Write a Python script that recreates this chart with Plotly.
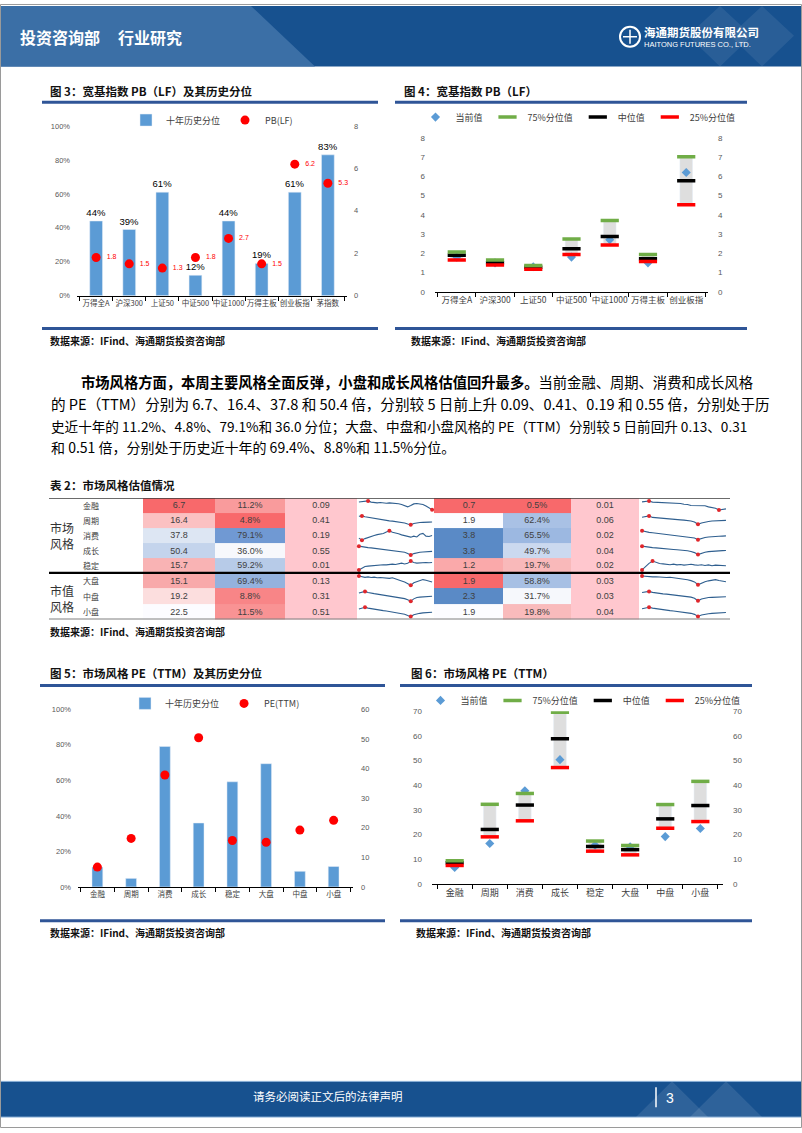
import plotly.graph_objects as go

W, H = 802, 1133
FONT = "Noto Sans CJK SC"
NUMFONT = "Liberation Sans, Noto Sans CJK SC"


def px(x):
    return x / W


def py(y):
    return 1 - y / H


# ---------------- data ----------------
broad_index = ["万得全A", "沪深300", "上证50", "中证500", "中证1000", "万得主板", "创业板指", "茅指数"]
broad_pb_pct = [44, 39, 61, 12, 44, 19, 61, 83]
broad_pb = [1.8, 1.5, 1.3, 1.8, 2.7, 1.5, 6.2, 5.3]

range_index = ["万得全A", "沪深300", "上证50", "中证500", "中证1000", "万得主板", "创业板指"]
pb_current = [1.8, 1.5, 1.3, 1.8, 2.7, 1.5, 6.2]
pb_q75 = [2.07, 1.65, 1.36, 2.74, 3.70, 1.93, 7.02]
pb_median = [1.89, 1.50, 1.27, 2.24, 2.87, 1.72, 5.77]
pb_q25 = [1.65, 1.39, 1.17, 1.94, 2.43, 1.57, 4.53]

styles = ["金融", "周期", "消费", "成长", "稳定", "大盘", "中盘", "小盘"]
style_pe = [6.7, 16.4, 37.8, 50.4, 15.7, 15.1, 19.2, 22.5]
style_pe_pct = [11.2, 4.8, 79.1, 36.0, 59.2, 69.4, 8.8, 11.5]
style_pe_chg = [0.09, 0.41, 0.19, 0.55, 0.01, 0.13, 0.31, 0.51]
style_pb = [0.7, 1.9, 3.8, 3.8, 1.2, 1.9, 2.3, 1.9]
style_pb_pct = [0.5, 62.4, 65.5, 49.7, 19.7, 58.8, 31.7, 19.8]
style_pb_chg = [0.01, 0.06, 0.02, 0.04, 0.02, 0.03, 0.03, 0.04]

pe_q75 = [9.4, 32.3, 36.7, 69.6, 17.4, 15.6, 32.2, 41.6]
pe_median = [8.6, 22.1, 32.0, 58.9, 15.2, 13.9, 26.4, 31.8]
pe_q25 = [7.5, 19.1, 25.6, 47.2, 13.3, 11.8, 22.6, 25.3]

# sparkline trends (relative heights)
pe_trend = [
    [85, 88, 92, 96, 84, 78, 76, 80, 74, 72, 76, 74, 70, 68, 60, 48, 36, 50, 66, 70, 68, 60, 44, 26, 8],
    [92, 95, 86, 80, 74, 70, 66, 62, 56, 50, 45, 42, 38, 34, 30, 24, 14, 5, 18, 26, 28, 30, 28, 32, 33],
    [25, 5, 20, 32, 42, 50, 58, 62, 70, 84, 95, 82, 76, 66, 56, 50, 40, 34, 44, 36, 62, 70, 44, 40, 50],
    [95, 88, 84, 80, 78, 74, 70, 66, 64, 60, 56, 52, 48, 44, 40, 34, 22, 5, 20, 30, 34, 36, 38, 40, 42],
    [5, 22, 40, 44, 48, 52, 50, 54, 58, 56, 62, 64, 60, 70, 74, 66, 72, 95, 80, 74, 78, 76, 80, 78, 80],
    [95, 86, 82, 86, 80, 84, 78, 80, 76, 74, 72, 78, 66, 52, 46, 36, 24, 5, 30, 42, 50, 60, 54, 42, 36],
    [80, 88, 95, 84, 76, 74, 70, 66, 62, 58, 54, 50, 46, 40, 34, 28, 18, 5, 26, 38, 42, 44, 46, 48, 50],
    [78, 86, 95, 86, 80, 76, 72, 66, 62, 58, 54, 50, 46, 42, 36, 28, 16, 5, 22, 32, 36, 40, 42, 44, 46],
]
pb_trend = [
    [86, 90, 95, 84, 82, 80, 78, 76, 74, 76, 72, 70, 62, 60, 50, 48, 52, 46, 48, 36, 30, 22, 5, 10, 16],
    [82, 88, 95, 80, 76, 74, 70, 66, 62, 60, 58, 55, 52, 50, 44, 34, 10, 24, 34, 38, 44, 46, 48, 50, 50],
    [95, 86, 80, 76, 72, 70, 66, 62, 58, 55, 52, 48, 44, 40, 36, 26, 10, 22, 30, 36, 40, 44, 42, 44, 46],
    [95, 88, 84, 80, 78, 76, 72, 70, 66, 62, 58, 56, 52, 48, 42, 30, 10, 24, 34, 40, 44, 46, 48, 50, 52],
    [5, 40, 72, 95, 82, 70, 66, 62, 58, 64, 56, 60, 54, 58, 62, 56, 52, 58, 50, 56, 48, 54, 50, 52, 48],
    [95, 90, 92, 86, 88, 84, 86, 80, 82, 78, 74, 70, 64, 58, 50, 38, 10, 28, 40, 48, 56, 60, 52, 44, 40],
    [84, 90, 95, 86, 80, 76, 72, 70, 66, 62, 58, 56, 52, 48, 42, 32, 8, 24, 32, 38, 40, 42, 44, 44, 46],
    [80, 88, 95, 86, 80, 74, 70, 66, 62, 58, 54, 50, 46, 42, 36, 26, 6, 20, 28, 32, 36, 38, 40, 42, 44],
]

# ---------------- styles ----------------
BLUE = "#5b9bd5"
RED = "#ff0000"
GREEN = "#70ad47"
BAND = "#dedede"
LINEBLUE = "#2f5597"
HEADER_DARK = "#17518f"
HEADER_LIGHT = "#3b6fa6"

pe_colors = ["#f8696b", "#fbc1c2", "#dde6f3", "#c4d4ec", "#f9b3b4", "#f8a9aa", "#fcdede", "#fcfcff"]
pe_pct_colors = ["#f99b9c", "#f8696b", "#7099d3", "#f7f8fc", "#b7cbe8", "#94b2de", "#f88587", "#f99394"]
pb_colors = ["#f8696b", "#fcfcff", "#5a8ac6", "#5a8ac6", "#faa9aa", "#f8696b", "#5a8ac6", "#fcfcff"]
pb_pct_colors = ["#f8696b", "#a9c1e5", "#9cb8e1", "#cbd9ef", "#f9b9ba", "#a7c0e4", "#f6f8fc", "#f9bbbc"]
chg_color = "#ffc7ce"

fig = go.Figure()
layout_axes = {}
shapes = []
annotations = []


def text(s, x, y, size, color="#000000", bold=False, xanchor="left", family=FONT):
    annotations.append(dict(text=f"<b>{s}</b>" if bold else s, x=px(x), y=py(y), xref="paper", yref="paper",
                            xanchor=xanchor, yanchor="middle", showarrow=False, borderpad=0,
                            font=dict(size=size, color=color, family=family)))


def hline(x0, x1, y, color, w):
    shapes.append(dict(type="line", xref="paper", yref="paper", x0=px(x0), x1=px(x1), y0=py(y), y1=py(y),
                       line=dict(color=color, width=w)))


def rect(x0, y0, x1, y1, fill, line=None, lw=0):
    shapes.append(dict(type="rect", xref="paper", yref="paper", x0=px(x0), x1=px(x1), y0=py(y1), y1=py(y0),
                       fillcolor=fill, line=dict(color=line or "rgba(0,0,0,0)", width=lw), layer="below"))


def poly(points, fill):
    path = "M " + " L ".join(f"{px(x)},{py(y)}" for x, y in points) + " Z"
    shapes.append(dict(type="path", xref="paper", yref="paper", path=path, fillcolor=fill,
                       line=dict(width=0), layer="below"))


def cat_x(x0, x1, anchor, fs):
    return dict(domain=[px(x0), px(x1)], anchor=anchor, type="category", showline=True, linecolor="#000000",
                linewidth=1, ticks="outside", tickson="boundaries", ticklen=4, tickcolor="#000000",
                tickangle=0, tickfont=dict(size=fs, color="#404040", family=FONT), showgrid=False,
                zeroline=False, fixedrange=True)


def val_y(y0, y1, anchor, rng, dtick, side="left", overlay=None, suffix="", standoff=6, fs=7.5):
    d = dict(range=rng, dtick=dtick, side=side, showgrid=False, zeroline=False, showline=False, ticks="",
             tickfont=dict(size=fs, color="#595959", family=NUMFONT), ticksuffix=suffix, anchor=anchor,
             fixedrange=True, ticklabelstandoff=standoff)
    if overlay:
        d["overlaying"] = overlay
    else:
        d["domain"] = [py(y1), py(y0)]
    return d


def legend_cfg(cx, cy):
    return dict(orientation="h", x=px(cx), y=py(cy), xanchor="center", yanchor="middle",
                font=dict(size=9, color="#404040", family=FONT), bgcolor="rgba(0,0,0,0)",
                itemwidth=30, tracegroupgap=0)


# ---------------- header / footer / frame ----------------
rect(0, 2, 802, 63, HEADER_DARK)
poly([(0, 2), (251, 2), (315, 63), (0, 63)], HEADER_LIGHT)
poly([(720, 2), (752, 32), (720, 63), (688, 32)], "rgba(255,255,255,0.08)")
poly([(762, 2), (794, 32), (762, 63), (730, 32)], "rgba(255,255,255,0.08)")
text("投资咨询部", 19, 33, 16, "#ffffff", True)
text("行业研究", 117, 33, 16, "#ffffff", True)
shapes.append(dict(type="circle", xref="paper", yref="paper", x0=px(620), x1=px(640), y0=py(43), y1=py(23),
                   line=dict(color="#ffffff", width=2)))
shapes.append(dict(type="line", xref="paper", yref="paper", x0=px(623), x1=px(637), y0=py(33), y1=py(33),
                   line=dict(color="#ffffff", width=1.5)))
shapes.append(dict(type="line", xref="paper", yref="paper", x0=px(630), x1=px(630), y0=py(26), y1=py(40),
                   line=dict(color="#ffffff", width=1.5)))
text("海通期货股份有限公司", 643, 28, 11.5, "#ffffff", True)
text("HAITONG FUTURES CO., LTD.", 643, 41, 7.5, "#ffffff", False, family=NUMFONT)

rect(0, 1086, 802, 1122, HEADER_DARK, "#8fb4da", 1)
poly([(636, 1122), (672, 1086), (708, 1122)], "rgba(255,255,255,0.10)")
poly([(690, 1122), (726, 1086), (762, 1122)], "rgba(255,255,255,0.10)")
text("请务必阅读正文后的法律声明", 328, 1101, 11.5, "#ffffff", False, "center")
shapes.append(dict(type="line", xref="paper", yref="paper", x0=px(656), x1=px(656), y0=py(1112), y1=py(1092),
                   line=dict(color="#ffffff", width=1.5)))
text("3", 670, 1103, 14, "#ffffff", False, "center", NUMFONT)
shapes.append(dict(type="rect", xref="paper", yref="paper", x0=px(0.5), x1=px(801.5), y0=py(1132.5),
                   y1=py(0.5), line=dict(color="#9a9a9a", width=1), layer="below"))

# ---------------- section titles / rules / sources ----------------
text("图 3：宽基指数 PB（LF）及其历史分位", 49, 88, 11.5, "#111111", True)
text("图 4：宽基指数 PB（LF）", 403, 88, 11.5, "#111111", True)
hline(42, 378, 99, LINEBLUE, 3)
hline(395, 747, 99, LINEBLUE, 3)
hline(42, 378, 327, LINEBLUE, 3)
hline(395, 747, 327, LINEBLUE, 3)
text("数据来源：IFind、海通期货投资咨询部", 49, 339, 10, "#111111", True)
text("数据来源：IFind、海通期货投资咨询部", 410, 339, 10, "#111111", True)

text("图 5：市场风格 PE（TTM）及其历史分位", 49, 674, 11.5, "#111111", True)
text("图 6：市场风格 PE（TTM）", 410, 674, 11.5, "#111111", True)
hline(40, 385, 687, LINEBLUE, 3)
hline(400, 752, 687, LINEBLUE, 3)
hline(40, 385, 924, LINEBLUE, 3)
hline(400, 752, 924, LINEBLUE, 3)
text("数据来源：IFind、海通期货投资咨询部", 49, 936, 10, "#111111", True)
text("数据来源：IFind、海通期货投资咨询部", 415, 936, 10, "#111111", True)

text("表 2：市场风格估值情况", 49, 485, 11.5, "#111111", True)
text("数据来源：IFind、海通期货投资咨询部", 49, 633, 10, "#111111", True)

# ---------------- paragraph ----------------
text("<b>市场风格方面，本周主要风格全面反弹，小盘和成长风格估值回升最多。</b>当前金融、周期、消费和成长风格",
     80, 381, 14.3)
text("的 PE（TTM）分别为 6.7、16.4、37.8 和 50.4 倍，分别较 5 日前上升 0.09、0.41、0.19 和 0.55 倍，分别处于历",
     50, 403, 14.6)
text("史近十年的 11.2%、4.8%、79.1%和 36.0 分位；大盘、中盘和小盘风格的 PE（TTM）分别较 5 日前回升 0.13、0.31",
     50, 425, 13.6)
text("和 0.51 倍，分别处于历史近十年的 69.4%、8.8%和 11.5%分位。", 50, 447, 14)

# ---------------- Figure 3 ----------------
fig.add_trace(go.Bar(x=broad_index, y=broad_pb_pct, name="十年历史分位", marker_color=BLUE, width=0.385,
                     text=[f"{v}%" for v in broad_pb_pct], textposition="outside", constraintext="none",
                     textfont=dict(size=9.5, color="#000000", family=NUMFONT), cliponaxis=False,
                     xaxis="x", yaxis="y", legend="legend"))
fig.add_trace(go.Scatter(x=broad_index, y=broad_pb, name="PB(LF)", mode="markers+text",
                         marker=dict(color=RED, size=9), text=[f"{v:.1f}" for v in broad_pb],
                         texttemplate="  %{text}", textposition="middle right",
                         textfont=dict(size=7, color=RED, family=NUMFONT), cliponaxis=False,
                         xaxis="x", yaxis="y2", legend="legend"))
layout_axes["xaxis"] = cat_x(77, 347, "y", 7.5)
layout_axes["yaxis"] = val_y(123, 294, "x", [0, 100], 20, suffix="%")
layout_axes["yaxis2"] = val_y(123, 294, "x", [0, 8], 2, side="right", overlay="y")

# ---------------- Figure 4 ----------------
fig.add_trace(go.Bar(x=range_index, y=[a - b for a, b in zip(pb_q75, pb_q25)], base=pb_q25, marker_color=BAND,
                     width=0.33, showlegend=False, xaxis="x2", yaxis="y3", hoverinfo="skip"))
fig.add_trace(go.Scatter(x=range_index, y=pb_current, name="当前值", mode="markers",
                         marker=dict(symbol="diamond", size=7, color=BLUE), xaxis="x2", yaxis="y3",
                         legend="legend2"))
fig.add_trace(go.Scatter(x=range_index, y=pb_q75, name="75%分位值", mode="markers",
                         marker=dict(symbol="line-ew", size=13, line=dict(width=3.5, color=GREEN)),
                         xaxis="x2", yaxis="y4", legend="legend2"))
fig.add_trace(go.Scatter(x=range_index, y=pb_median, name="中位值", mode="markers",
                         marker=dict(symbol="line-ew", size=13, line=dict(width=3.5, color="#000000")),
                         xaxis="x2", yaxis="y3", legend="legend2"))
fig.add_trace(go.Scatter(x=range_index, y=pb_q25, name="25%分位值", mode="markers",
                         marker=dict(symbol="line-ew", size=13, line=dict(width=3.5, color=RED)),
                         xaxis="x2", yaxis="y3", legend="legend2"))
layout_axes["xaxis2"] = cat_x(435, 708, "y3", 8.5)
layout_axes["yaxis3"] = val_y(135, 290, "x2", [0, 8], 1, standoff=9, fs=8)
layout_axes["yaxis4"] = val_y(135, 290, "x2", [0, 8], 1, side="right", overlay="y3", standoff=9, fs=8)

# ---------------- Figure 5 ----------------
fig.add_trace(go.Bar(x=styles, y=style_pe_pct, name="十年历史分位", marker_color=BLUE, width=0.32,
                     xaxis="x3", yaxis="y5", legend="legend3"))
fig.add_trace(go.Scatter(x=styles, y=style_pe, name="PE(TTM)", mode="markers", marker=dict(color=RED, size=9),
                         xaxis="x3", yaxis="y6", legend="legend3", cliponaxis=False))
layout_axes["xaxis3"] = cat_x(78, 353, "y5", 7.5)
layout_axes["yaxis5"] = val_y(711, 890, "x3", [0, 100], 20, suffix="%")
layout_axes["yaxis6"] = val_y(711, 890, "x3", [0, 60], 10, side="right", overlay="y5", standoff=7)

# ---------------- Figure 6 ----------------
fig.add_trace(go.Bar(x=styles, y=[a - b for a, b in zip(pe_q75, pe_q25)], base=pe_q25, marker_color=BAND,
                     width=0.36, showlegend=False, xaxis="x4", yaxis="y7", hoverinfo="skip"))
fig.add_trace(go.Scatter(x=styles, y=style_pe, name="当前值", mode="markers",
                         marker=dict(symbol="diamond", size=7, color=BLUE), xaxis="x4", yaxis="y7",
                         legend="legend4"))
fig.add_trace(go.Scatter(x=styles, y=pe_q75, name="75%分位值", mode="markers",
                         marker=dict(symbol="line-ew", size=13, line=dict(width=3.5, color=GREEN)),
                         xaxis="x4", yaxis="y8", legend="legend4"))
fig.add_trace(go.Scatter(x=styles, y=pe_median, name="中位值", mode="markers",
                         marker=dict(symbol="line-ew", size=13, line=dict(width=3.5, color="#000000")),
                         xaxis="x4", yaxis="y7", legend="legend4"))
fig.add_trace(go.Scatter(x=styles, y=pe_q25, name="25%分位值", mode="markers",
                         marker=dict(symbol="line-ew", size=13, line=dict(width=3.5, color=RED)),
                         xaxis="x4", yaxis="y7", legend="legend4"))
layout_axes["xaxis4"] = cat_x(432, 723, "y7", 9)
layout_axes["yaxis7"] = val_y(713, 887, "x4", [0, 70], 10, standoff=9, fs=8)
layout_axes["yaxis8"] = val_y(713, 887, "x4", [0, 70], 10, side="right", overlay="y7", standoff=9, fs=8)

# ---------------- Table 2 (heatmap cells) ----------------
TBL_X0, TBL_X1 = 49, 730
col_edges = [143, 215, 285, 357, 434, 503, 571, 639, 730]
row_edges = [498, 513, 528, 543.5, 558.5, 573.5, 589, 605, 620.5]

cell_colors = []
cell_text = []
for r in range(len(styles)):
    cell_colors.append([pe_colors[r], pe_pct_colors[r], chg_color, None,
                        pb_colors[r], pb_pct_colors[r], chg_color, None])
    cell_text.append([f"{style_pe[r]:.1f}", f"{style_pe_pct[r]:.1f}%", f"{style_pe_chg[r]:.2f}", "",
                      f"{style_pb[r]:.1f}", f"{style_pb_pct[r]:.1f}%", f"{style_pb_chg[r]:.2f}", ""])
palette = []
for row in cell_colors:
    for c in row:
        if c is not None and c not in palette:
            palette.append(c)
z = [[None if c is None else palette.index(c) for c in row] for row in cell_colors]
n = len(palette)
colorscale = [[i / (n - 1), c] for i, c in enumerate(palette)]
fig.add_trace(go.Heatmap(x=col_edges, y=row_edges, z=z, zmin=0, zmax=n - 1, colorscale=colorscale,
                         showscale=False, text=cell_text, texttemplate="%{text}",
                         textfont=dict(size=9, color="#404040", family=NUMFONT), hoverinfo="skip",
                         xaxis="x5", yaxis="y9"))
layout_axes["xaxis5"] = dict(domain=[px(TBL_X0), px(TBL_X1)], range=[TBL_X0, TBL_X1], visible=False,
                             anchor="y9", fixedrange=True)
layout_axes["yaxis9"] = dict(domain=[py(row_edges[-1]), py(row_edges[0])], range=[row_edges[-1], row_edges[0]],
                             visible=False, anchor="x5", fixedrange=True)

for r, name in enumerate(styles):
    annotations.append(dict(text=name, x=91, y=(row_edges[r] + row_edges[r + 1]) / 2, xref="x5", yref="y9",
                            showarrow=False, borderpad=0, font=dict(size=8, color="#404040", family=FONT)))
annotations.append(dict(text="市场<br>风格", x=62, y=(row_edges[0] + row_edges[5]) / 2, xref="x5", yref="y9",
                        showarrow=False, borderpad=0, font=dict(size=12, color="#333333", family=FONT)))
annotations.append(dict(text="市值<br>风格", x=62, y=(row_edges[5] + row_edges[8]) / 2 + 2, xref="x5",
                        yref="y9", showarrow=False, borderpad=0,
                        font=dict(size=12, color="#333333", family=FONT)))
for yv, color, w in [(row_edges[0], "#3a3a3a", 1.2), (row_edges[5], "#000000", 2.2), (row_edges[-1], "#808080", 2)]:
    shapes.append(dict(type="line", xref="x5", yref="y9", x0=TBL_X0, x1=TBL_X1, y0=yv, y1=yv,
                       line=dict(color=color, width=w)))

# sparklines
ax = 6
for block, (trends, (sx0, sx1)) in enumerate([(pe_trend, (358, 433)), (pb_trend, (641, 727))]):
    for r, series in enumerate(trends):
        xs = list(range(len(series)))
        imax = series.index(max(series))
        imin = series.index(min(series))
        fig.add_trace(go.Scatter(x=xs, y=series, mode="lines", line=dict(color="#2f5f8f", width=1.1),
                                 showlegend=False, hoverinfo="skip", xaxis=f"x{ax}", yaxis=f"y{ax + 4}"))
        fig.add_trace(go.Scatter(x=[imax, imin], y=[series[imax], series[imin]], mode="markers",
                                 marker=dict(color="#e0262b", size=4), showlegend=False, hoverinfo="skip",
                                 cliponaxis=False, xaxis=f"x{ax}", yaxis=f"y{ax + 4}"))
        layout_axes[f"xaxis{ax}"] = dict(domain=[px(sx0), px(sx1)], range=[-0.3, len(series) - 0.7],
                                         visible=False, anchor=f"y{ax + 4}", fixedrange=True)
        layout_axes[f"yaxis{ax + 4}"] = dict(domain=[py(row_edges[r + 1] - 2), py(row_edges[r] + 2)],
                                             range=[-5, 105], visible=False, anchor=f"x{ax}", fixedrange=True)
        ax += 1

fig.update_layout(
    width=W, height=H, margin=dict(l=0, r=0, t=0, b=0, pad=0),
    paper_bgcolor="#ffffff", plot_bgcolor="rgba(0,0,0,0)",
    font=dict(family=FONT, color="#404040"),
    showlegend=True, hovermode=False, barmode="overlay",
    legend=legend_cfg(212, 117), legend2=legend_cfg(578, 114),
    legend3=legend_cfg(215, 705), legend4=legend_cfg(583, 702),
    shapes=shapes, annotations=annotations,
    **layout_axes,
)

fig.write_html("out.html", config={"displayModeBar": False},
               post_script="document.body.style.margin='0';document.body.style.overflow='hidden';")
